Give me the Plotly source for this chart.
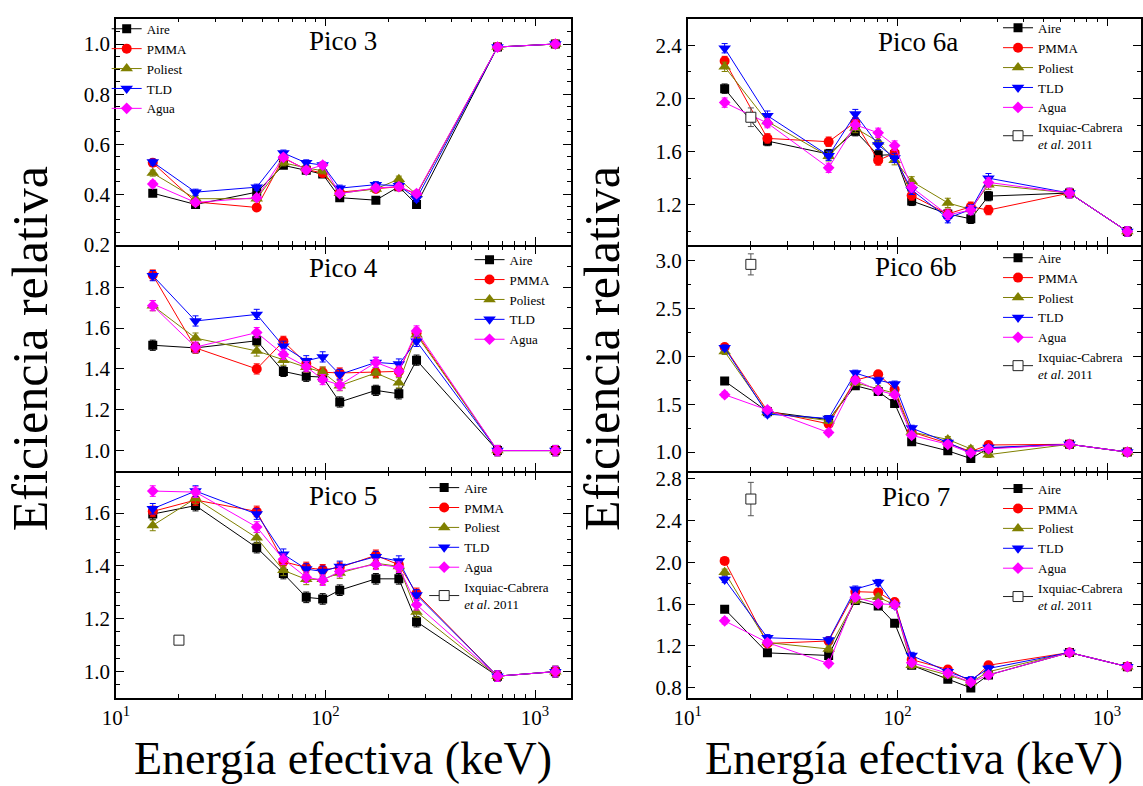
import plotly.graph_objects as go

# ---------------- data ----------------
energy = [15, 24, 47, 63, 81, 97, 117, 174, 224, 272, 662, 1250]
energy_ref = [20]

series_names = ["Aire", "PMMA", "Poliest", "TLD", "Agua"]
ref_name = "Ixquiac-Cabrera<br><i>et al</i>. 2011"

aire3 = [0.405, 0.36, 0.409, 0.516, 0.496, 0.481, 0.387, 0.377, 0.431, 0.36, 0.988, 1.0]
pmma3 = [0.526, 0.37, 0.348, 0.545, 0.50, 0.485, 0.409, 0.422, 0.431, 0.40, 0.988, 1.0]
poli3 = [0.485, 0.383, 0.383, 0.526, 0.506, 0.494, 0.405, 0.422, 0.461, 0.40, 0.988, 1.0]
tld3 = [0.529, 0.409, 0.429, 0.565, 0.526, 0.517, 0.425, 0.439, 0.435, 0.383, 0.988, 1.0]
agua3 = [0.442, 0.368, 0.387, 0.548, 0.497, 0.517, 0.403, 0.426, 0.431, 0.403, 0.988, 1.0]

aire4 = [1.516, 1.503, 1.538, 1.388, 1.364, 1.36, 1.238, 1.295, 1.278, 1.443, 1.0, 1.0]
pmma4 = [1.86, 1.503, 1.40, 1.535, 1.427, 1.384, 1.38, 1.383, 1.388, 1.575, 1.0, 1.0]
poli4 = [1.71, 1.551, 1.488, 1.443, 1.408, 1.384, 1.318, 1.38, 1.332, 1.567, 1.0, 1.0]
tld4 = [1.857, 1.635, 1.667, 1.511, 1.44, 1.459, 1.373, 1.432, 1.424, 1.535, 1.0, 1.0]
agua4 = [1.71, 1.507, 1.578, 1.471, 1.411, 1.348, 1.321, 1.432, 1.389, 1.586, 1.0, 1.0]

aire5 = [1.596, 1.628, 1.469, 1.371, 1.281, 1.275, 1.308, 1.351, 1.351, 1.189, 0.983, 1.0]
pmma5 = [1.606, 1.649, 1.606, 1.416, 1.394, 1.385, 1.394, 1.44, 1.404, 1.296, 0.983, 1.0]
poli5 = [1.553, 1.655, 1.506, 1.383, 1.349, 1.349, 1.373, 1.41, 1.398, 1.226, 0.983, 1.0]
tld5 = [1.616, 1.683, 1.596, 1.444, 1.388, 1.379, 1.398, 1.435, 1.418, 1.29, 0.983, 1.0]
agua5 = [1.683, 1.679, 1.547, 1.425, 1.357, 1.346, 1.379, 1.406, 1.395, 1.253, 0.983, 1.0]
ref5 = [1.119]

aire6a = [2.074, 1.68, 1.582, 1.754, 1.573, 1.578, 1.23, 1.132, 1.095, 1.266, 1.289, 1.0]
pmma6a = [2.282, 1.70, 1.675, 1.822, 1.534, 1.59, 1.271, 1.132, 1.186, 1.161, 1.289, 1.0]
poli6a = [2.238, 1.827, 1.565, 1.778, 1.675, 1.536, 1.377, 1.215, 1.166, 1.352, 1.289, 1.0]
tld6a = [2.378, 1.871, 1.57, 1.883, 1.651, 1.553, 1.313, 1.10, 1.166, 1.401, 1.289, 1.0]
agua6a = [1.969, 1.815, 1.479, 1.802, 1.742, 1.646, 1.332, 1.125, 1.161, 1.369, 1.289, 1.0]
ref6a = [1.859]

aire6b = [1.741, 1.422, 1.338, 1.693, 1.632, 1.508, 1.108, 1.013, 0.932, 1.04, 1.081, 1.0]
pmma6b = [2.096, 1.429, 1.294, 1.751, 1.812, 1.656, 1.209, 1.091, 1.006, 1.074, 1.081, 1.0]
poli6b = [2.049, 1.412, 1.328, 1.724, 1.66, 1.615, 1.209, 1.132, 1.033, 0.973, 1.081, 1.0]
tld6b = [2.089, 1.396, 1.351, 1.825, 1.751, 1.711, 1.25, 1.101, 0.99, 1.047, 1.081, 1.0]
agua6b = [1.599, 1.44, 1.203, 1.751, 1.643, 1.599, 1.175, 1.081, 0.99, 1.033, 1.081, 1.0]
ref6b = [2.96]

aire7 = [1.551, 1.132, 1.107, 1.635, 1.582, 1.417, 1.013, 0.88, 0.796, 0.92, 1.135, 1.0]
pmma7 = [2.014, 1.222, 1.246, 1.719, 1.712, 1.619, 1.067, 0.973, 0.858, 1.013, 1.135, 1.0]
poli7 = [1.905, 1.231, 1.169, 1.635, 1.666, 1.594, 1.013, 0.92, 0.849, 0.951, 1.135, 1.0]
tld7 = [1.836, 1.277, 1.256, 1.743, 1.806, 1.588, 1.107, 0.951, 0.874, 0.982, 1.135, 1.0]
agua7 = [1.439, 1.231, 1.029, 1.666, 1.603, 1.594, 1.038, 0.936, 0.849, 0.92, 1.135, 1.0]
ref7 = [2.607]

x_tickvals = [10, 100, 1000]
x_ticktext = ["10<sup>1</sup>", "10<sup>2</sup>", "10<sup>3</sup>"]

# ---------------- styling ----------------
FONT = "Liberation Serif"
W, H = 1143, 786
LW = 1.5
colors = ["#000000", "#FF0000", "#808000", "#0000FF", "#FF00FF"]
symbols = ["square", "circle", "triangle-up", "triangle-down", "diamond"]
msizes = [9, 10, 11, 11, 9]


def px_x(p):
    return p / W


def px_y(p):
    return 1 - p / H


col_dom = [[px_x(103.3), px_x(565)], [px_x(683.3), 1.0]]
# lower rows start LW px lower so the shared boundary lines overlap
row_dom = [[px_y(245.5), px_y(14)],
           [px_y(476.5), px_y(245.5 + LW)],
           [px_y(708.5), px_y(476.5 + LW)]]
x_ranges = [[1, 3.172], [1, 3.162]]

panels = [
    dict(title="Pico 3", row=0, col=0, data=[aire3, pmma3, poli3, tld3, agua3], ref=None,
         err=0.012, ref_err=0, yr=[0.1975, 1.101], yt=[0.2, 0.4, 0.6, 0.8, 1.0], ytt=["0.2", "0.4", "0.6", "0.8", "1.0"],
         minor=0.05, tpos=(334, 37), leg=(94, 9)),
    dict(title="Pico 6a", row=0, col=1, data=[aire6a, pmma6a, poli6a, tld6a, agua6a], ref=ref6a,
         err=0.035, ref_err=0.07, yr=[0.897, 2.6], yt=[1.2, 1.6, 2.0, 2.4], ytt=["1.2", "1.6", "2.0", "2.4"],
         minor=0.2, tpos=(917, 38), leg=(998, 8)),
    dict(title="Pico 4", row=1, col=0, data=[aire4, pmma4, poli4, tld4, agua4], ref=None,
         err=0.025, ref_err=0, yr=[0.899, 1.999], yt=[1.0, 1.2, 1.4, 1.6, 1.8], ytt=["1.0", "1.2", "1.4", "1.6", "1.8"],
         minor=0.1, tpos=(334, 269), leg=(462, 245)),
    dict(title="Pico 6b", row=1, col=1, data=[aire6b, pmma6b, poli6b, tld6b, agua6b], ref=ref6b,
         err=0.03, ref_err=0.11, yr=[0.8, 3.145], yt=[1.0, 1.5, 2.0, 2.5, 3.0], ytt=["1.0", "1.5", "2.0", "2.5", "3.0"],
         minor=0.25, tpos=(915, 268), leg=(998, 243)),
    dict(title="Pico 5", row=2, col=0, data=[aire5, pmma5, poli5, tld5, agua5], ref=ref5,
         err=0.02, ref_err=0.012, yr=[0.8996, 1.7526], yt=[1.0, 1.2, 1.4, 1.6], ytt=["1.0", "1.2", "1.4", "1.6"],
         minor=0.05, tpos=(334, 502), leg=(416, 478)),
    dict(title="Pico 7", row=2, col=1, data=[aire7, pmma7, poli7, tld7, agua7], ref=ref7,
         err=0.03, ref_err=0.16, yr=[0.6975, 2.86], yt=[0.8, 1.2, 1.6, 2.0, 2.4, 2.8], ytt=["0.8", "1.2", "1.6", "2.0", "2.4", "2.8"],
         minor=0.2, tpos=(915, 503), leg=(998, 479)),
]

x_minor_vals = [20, 30, 40, 50, 60, 70, 80, 90, 200, 300, 400, 500, 600, 700, 800, 900]

fig = go.Figure()
layout = dict(
    width=W, height=H,
    margin=dict(l=0, r=0, t=0, b=0),
    paper_bgcolor="white", plot_bgcolor="white",
    font=dict(family=FONT, color="black", size=20),
    showlegend=True,
    annotations=[],
)

for i, p in enumerate(panels):
    n = i + 1
    xa = "x" if n == 1 else f"x{n}"
    ya = "y" if n == 1 else f"y{n}"
    leg = "legend" if n == 1 else f"legend{n}"
    for k, name in enumerate(series_names):
        fig.add_trace(go.Scatter(
            x=energy, y=p["data"][k], name=name, mode="lines+markers",
            xaxis=xa, yaxis=ya, legend=leg,
            line=dict(color=colors[k], width=1),
            marker=dict(symbol=symbols[k], color=colors[k], size=msizes[k], line=dict(width=0)),
            error_y=dict(type="constant", value=p["err"], color=colors[k], thickness=1, width=3),
        ))
    if p["ref"] is not None:
        fig.add_trace(go.Scatter(
            x=energy_ref, y=p["ref"], name=ref_name, mode="lines+markers",
            xaxis=xa, yaxis=ya, legend=leg,
            line=dict(color="#222222", width=1),
            marker=dict(symbol="square", color="white", size=10, line=dict(color="#222222", width=1)),
            error_y=dict(type="constant", value=p["ref_err"], color="#555555", thickness=1, width=3),
        ))
    xk = "xaxis" if n == 1 else f"xaxis{n}"
    yk = "yaxis" if n == 1 else f"yaxis{n}"
    bottom = p["row"] == 2
    layout[xk] = dict(
        type="log", domain=col_dom[p["col"]], range=x_ranges[p["col"]], anchor=ya,
        showline=True, linecolor="black", linewidth=LW, mirror="ticks",
        ticks="inside", ticklen=8, tickwidth=1.2, tickcolor="black",
        tickvals=x_tickvals, ticktext=x_ticktext, showticklabels=bottom,
        tickfont=dict(family=FONT, size=21, color="black"),
        showgrid=False, zeroline=False,
        minor=dict(ticks="inside", ticklen=4, tickwidth=1, tickcolor="black",
                   tickmode="array", tickvals=x_minor_vals, showgrid=False),
    )
    layout[yk] = dict(
        domain=row_dom[p["row"]], range=p["yr"], anchor=xa,
        showline=True, linecolor="black", linewidth=LW, mirror="ticks",
        ticks="inside", ticklen=8, tickwidth=1.2, tickcolor="black",
        tickmode="array", tickvals=p["yt"], ticktext=p["ytt"],
        tickfont=dict(family=FONT, size=21, color="black"),
        showgrid=False, zeroline=False,
        minor=dict(ticks="inside", ticklen=4, tickwidth=1, tickcolor="black",
                   tickmode="linear", tick0=0, dtick=p["minor"], showgrid=False),
    )
    layout[leg] = dict(
        x=px_x(p["leg"][0]), y=px_y(p["leg"][1]), xanchor="left", yanchor="top",
        xref="paper", yref="paper",
        bgcolor="rgba(0,0,0,0)", borderwidth=0,
        font=dict(family=FONT, size=13, color="black"),
        itemwidth=30, tracegroupgap=0,
    )
    layout["annotations"].append(dict(
        text=p["title"], x=px_x(p["tpos"][0]), y=px_y(p["tpos"][1]),
        xref="paper", yref="paper", xanchor="center", yanchor="middle",
        showarrow=False, font=dict(family=FONT, size=27, color="black"),
    ))

# axis titles
for cx in [(103.3 + 565) / 2, (683.3 + 1143) / 2]:
    layout["annotations"].append(dict(
        text="Energía efectiva (keV)", x=px_x(cx), y=px_y(770),
        xref="paper", yref="paper", xanchor="center", yanchor="middle",
        showarrow=False, font=dict(family=FONT, size=46, color="black"),
    ))
for cx in [17, 597]:
    layout["annotations"].append(dict(
        text="Eficiencia relativa", x=px_x(cx), y=px_y(351), textangle=-90,
        xref="paper", yref="paper", xanchor="center", yanchor="middle",
        showarrow=False, font=dict(family=FONT, size=50, color="black"),
    ))

fig.update_layout(**layout)
fig.write_html("out.html")
